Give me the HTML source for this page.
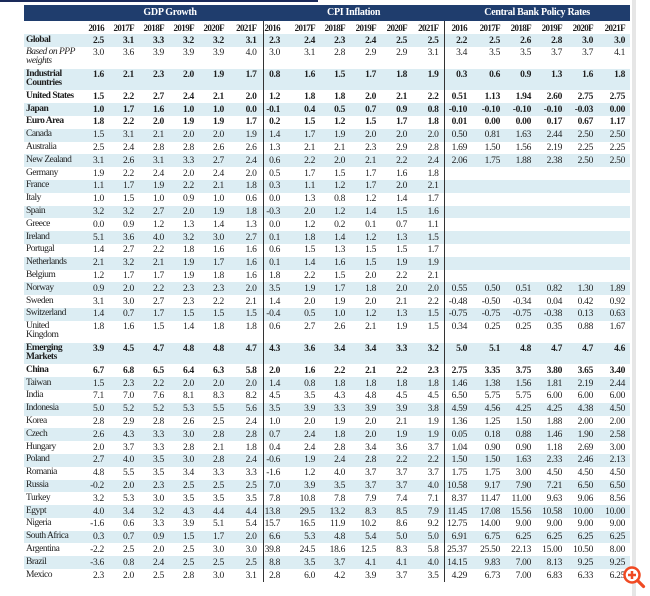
<!DOCTYPE html>
<html><head><meta charset="utf-8"><style>
html,body{margin:0;padding:0;background:#fff;width:650px;height:596px;overflow:hidden;position:relative}
.topbar{position:absolute;left:0;top:0;width:318px;height:2px;background:#1a2a5a}
.scroll{position:absolute;left:632px;top:0;width:4px;height:596px;background:#e6e6e6}
table{position:absolute;left:24px;top:5px;width:606px;border-collapse:collapse;table-layout:fixed;font-family:"Liberation Serif",serif;font-size:9.5px;color:#1e1e1e;letter-spacing:-0.3px}
td{padding:1.5px 3px 0 0;text-align:right;vertical-align:top;line-height:10px;white-space:nowrap;overflow:visible;height:11.3px;box-sizing:content-box}
td.l{text-align:left;padding-left:2px;line-height:9px;letter-spacing:-0.5px}
tr.d td{height:20.3px}
tr.b td{background:#dcedf3}
tr.s td{font-weight:bold}
tr.i td.l{font-style:italic}
td.sep{border-left:1.5px solid #333}
td.lc{padding-right:5px}
td.g6{padding-right:6px}
tr.nav td{background:#1f3d6d;color:#fff;font-weight:bold;text-align:center;height:16px;vertical-align:middle;padding:0;font-size:10px}
tr.hd td{font-weight:bold;height:11.5px;vertical-align:middle;font-size:9px;letter-spacing:-0.6px}
</style></head><body>
<div class="topbar"></div><div class="scroll"></div>
<table>
<colgroup><col style="width:53px"><col style="width:30px"><col style="width:30px"><col style="width:30px"><col style="width:30px"><col style="width:30px"><col style="width:36px"><col style="width:20px"><col style="width:35px"><col style="width:30px"><col style="width:31px"><col style="width:31px"><col style="width:34px"><col style="width:26px"><col style="width:33px"><col style="width:31px"><col style="width:31px"><col style="width:31px"><col style="width:34px"></colgroup>
<tr class="nav"><td></td><td colspan="6">GDP Growth</td><td colspan="6">CPI Inflation</td><td colspan="6">Central Bank Policy Rates</td></tr>
<tr class="hd"><td class="l"></td><td>2016</td><td>2017F</td><td>2018F</td><td>2019F</td><td>2020F</td><td class="g6">2021F</td><td class="sep">2016</td><td>2017F</td><td>2018F</td><td>2019F</td><td>2020F</td><td class="lc">2021F</td><td class="sep">2016</td><td>2017F</td><td>2018F</td><td>2019F</td><td>2020F</td><td class="lc">2021F</td></tr>
<tbody id="b"></tbody>
</table>
<svg style="position:absolute;left:622px;top:565px" width="26" height="28" viewBox="0 0 26 28"><circle cx="10" cy="10" r="7.5" fill="#fff" stroke="#f04a23" stroke-width="2.5"/><path d="M6 10h8M10 6v8" stroke="#f04a23" stroke-width="2.5"/><path d="M15.5 15.5l6 6" stroke="#f04a23" stroke-width="3.2" stroke-linecap="round"/></svg>
<script>
const R=[
["Global","s","2.5 3.1 3.3 3.2 3.2 3.1","2.3 2.4 2.3 2.4 2.5 2.5","2.2 2.5 2.6 2.8 3.0 3.0"],
["Based on PPP<br>weights","di","3.0 3.6 3.9 3.9 3.9 4.0","3.0 3.1 2.8 2.9 2.9 3.1","3.4 3.5 3.5 3.7 3.7 4.1"],
["Industrial<br>Countries","ds","1.6 2.1 2.3 2.0 1.9 1.7","0.8 1.6 1.5 1.7 1.8 1.9","0.3 0.6 0.9 1.3 1.6 1.8"],
["United States","s","1.5 2.2 2.7 2.4 2.1 2.0","1.2 1.8 1.8 2.0 2.1 2.2","0.51 1.13 1.94 2.60 2.75 2.75"],
["Japan","s","1.0 1.7 1.6 1.0 1.0 0.0","-0.1 0.4 0.5 0.7 0.9 0.8","-0.10 -0.10 -0.10 -0.10 -0.03 0.00"],
["Euro Area","s","1.8 2.2 2.0 1.9 1.9 1.7","0.2 1.5 1.2 1.5 1.7 1.8","0.01 0.00 0.00 0.17 0.67 1.17"],
["Canada","","1.5 3.1 2.1 2.0 2.0 1.9","1.4 1.7 1.9 2.0 2.0 2.0","0.50 0.81 1.63 2.44 2.50 2.50"],
["Australia","","2.5 2.4 2.8 2.8 2.6 2.6","1.3 2.1 2.1 2.3 2.9 2.8","1.69 1.50 1.56 2.19 2.25 2.25"],
["New Zealand","","3.1 2.6 3.1 3.3 2.7 2.4","0.6 2.2 2.0 2.1 2.2 2.4","2.06 1.75 1.88 2.38 2.50 2.50"],
["Germany","","1.9 2.2 2.4 2.0 2.4 2.0","0.5 1.7 1.5 1.7 1.6 1.8",""],
["France","","1.1 1.7 1.9 2.2 2.1 1.8","0.3 1.1 1.2 1.7 2.0 2.1",""],
["Italy","","1.0 1.5 1.0 0.9 1.0 0.6","0.0 1.3 0.8 1.2 1.4 1.7",""],
["Spain","","3.2 3.2 2.7 2.0 1.9 1.8","-0.3 2.0 1.2 1.4 1.5 1.6",""],
["Greece","","0.0 0.9 1.2 1.3 1.4 1.3","0.0 1.2 0.2 0.1 0.7 1.1",""],
["Ireland","","5.1 3.6 4.0 3.2 3.0 2.7","0.1 1.8 1.4 1.2 1.3 1.5",""],
["Portugal","","1.4 2.7 2.2 1.8 1.6 1.6","0.6 1.5 1.3 1.5 1.5 1.7",""],
["Netherlands","","2.1 3.2 2.1 1.9 1.7 1.6","0.1 1.4 1.6 1.5 1.9 1.9",""],
["Belgium","","1.2 1.7 1.7 1.9 1.8 1.6","1.8 2.2 1.5 2.0 2.2 2.1",""],
["Norway","","0.9 2.0 2.2 2.3 2.3 2.0","3.5 1.9 1.7 1.8 2.0 2.0","0.55 0.50 0.51 0.82 1.30 1.89"],
["Sweden","","3.1 3.0 2.7 2.3 2.2 2.1","1.4 2.0 1.9 2.0 2.1 2.2","-0.48 -0.50 -0.34 0.04 0.42 0.92"],
["Switzerland","","1.4 0.7 1.7 1.5 1.5 1.5","-0.4 0.5 1.0 1.2 1.3 1.5","-0.75 -0.75 -0.75 -0.38 0.13 0.63"],
["United<br>Kingdom","d","1.8 1.6 1.5 1.4 1.8 1.8","0.6 2.7 2.6 2.1 1.9 1.5","0.34 0.25 0.25 0.35 0.88 1.67"],
["Emerging<br>Markets","ds","3.9 4.5 4.7 4.8 4.8 4.7","4.3 3.6 3.4 3.4 3.3 3.2","5.0 5.1 4.8 4.7 4.7 4.6"],
["China","s","6.7 6.8 6.5 6.4 6.3 5.8","2.0 1.6 2.2 2.1 2.2 2.3","2.75 3.35 3.75 3.80 3.65 3.40"],
["Taiwan","","1.5 2.3 2.2 2.0 2.0 2.0","1.4 0.8 1.8 1.8 1.8 1.8","1.46 1.38 1.56 1.81 2.19 2.44"],
["India","","7.1 7.0 7.6 8.1 8.3 8.2","4.5 3.5 4.3 4.8 4.5 4.5","6.50 5.75 5.75 6.00 6.00 6.00"],
["Indonesia","","5.0 5.2 5.2 5.3 5.5 5.6","3.5 3.9 3.3 3.9 3.9 3.8","4.59 4.56 4.25 4.25 4.38 4.50"],
["Korea","","2.8 2.9 2.8 2.6 2.5 2.4","1.0 2.0 1.9 2.0 2.1 1.9","1.36 1.25 1.50 1.88 2.00 2.00"],
["Czech","","2.6 4.3 3.3 3.0 2.8 2.8","0.7 2.4 1.8 2.0 1.9 1.9","0.05 0.18 0.88 1.46 1.90 2.58"],
["Hungary","","2.0 3.7 3.3 2.8 2.1 1.8","0.4 2.4 2.8 3.4 3.6 3.7","1.04 0.90 0.90 1.18 2.69 3.00"],
["Poland","","2.7 4.0 3.5 3.0 2.8 2.4","-0.6 1.9 2.4 2.8 2.2 2.2","1.50 1.50 1.63 2.33 2.46 2.13"],
["Romania","","4.8 5.5 3.5 3.4 3.3 3.3","-1.6 1.2 4.0 3.7 3.7 3.7","1.75 1.75 3.00 4.50 4.50 4.50"],
["Russia","","-0.2 2.0 2.3 2.5 2.5 2.5","7.0 3.9 3.5 3.7 3.7 4.0","10.58 9.17 7.90 7.21 6.50 6.50"],
["Turkey","","3.2 5.3 3.0 3.5 3.5 3.5","7.8 10.8 7.8 7.9 7.4 7.1","8.37 11.47 11.00 9.63 9.06 8.56"],
["Egypt","","4.0 3.4 3.2 4.3 4.4 4.4","13.8 29.5 13.2 8.3 8.5 7.9","11.45 17.08 15.56 10.58 10.00 10.00"],
["Nigeria","","-1.6 0.6 3.3 3.9 5.1 5.4","15.7 16.5 11.9 10.2 8.6 9.2","12.75 14.00 9.00 9.00 9.00 9.00"],
["South Africa","","0.3 0.7 0.9 1.5 1.7 2.0","6.6 5.3 4.8 5.4 5.0 5.0","6.91 6.75 6.25 6.25 6.25 6.25"],
["Argentina","","-2.2 2.5 2.0 2.5 3.0 3.0","39.8 24.5 18.6 12.5 8.3 5.8","25.37 25.50 22.13 15.00 10.50 8.00"],
["Brazil","","-3.6 0.8 2.4 2.5 2.5 2.5","8.8 3.5 3.7 4.1 4.1 4.0","14.15 9.83 7.00 8.13 9.25 9.25"],
["Mexico","","2.3 2.0 2.5 2.8 3.0 3.1","2.8 6.0 4.2 3.9 3.7 3.5","4.29 6.73 7.00 6.83 6.33 6.25"]];
let h="";
R.forEach((r,i)=>{
 let c=[];if(i%2==0)c.push("b");if(r[1].includes("s"))c.push("s");if(r[1].includes("d"))c.push("d");if(r[1].includes("i"))c.push("i");
 h+='<tr class="'+c.join(" ")+'"><td class="l">'+r[0]+'</td>';
 const g=r[2].split(" "),p=r[3].split(" "),b=r[4]?r[4].split(" "):["","","","","",""];
 g.forEach((v,k)=>h+='<td class="'+(k==5?"g6":"")+'">'+v+"</td>");
 p.forEach((v,k)=>h+='<td class="'+(k==0?"sep":k==5?"lc":"")+'">'+v+"</td>");
 b.forEach((v,k)=>h+='<td class="'+(k==0?"sep":k==5?"lc":"")+'">'+v+"</td>");
 h+="</tr>";
});
document.getElementById("b").innerHTML=h;
</script>
</body></html>
